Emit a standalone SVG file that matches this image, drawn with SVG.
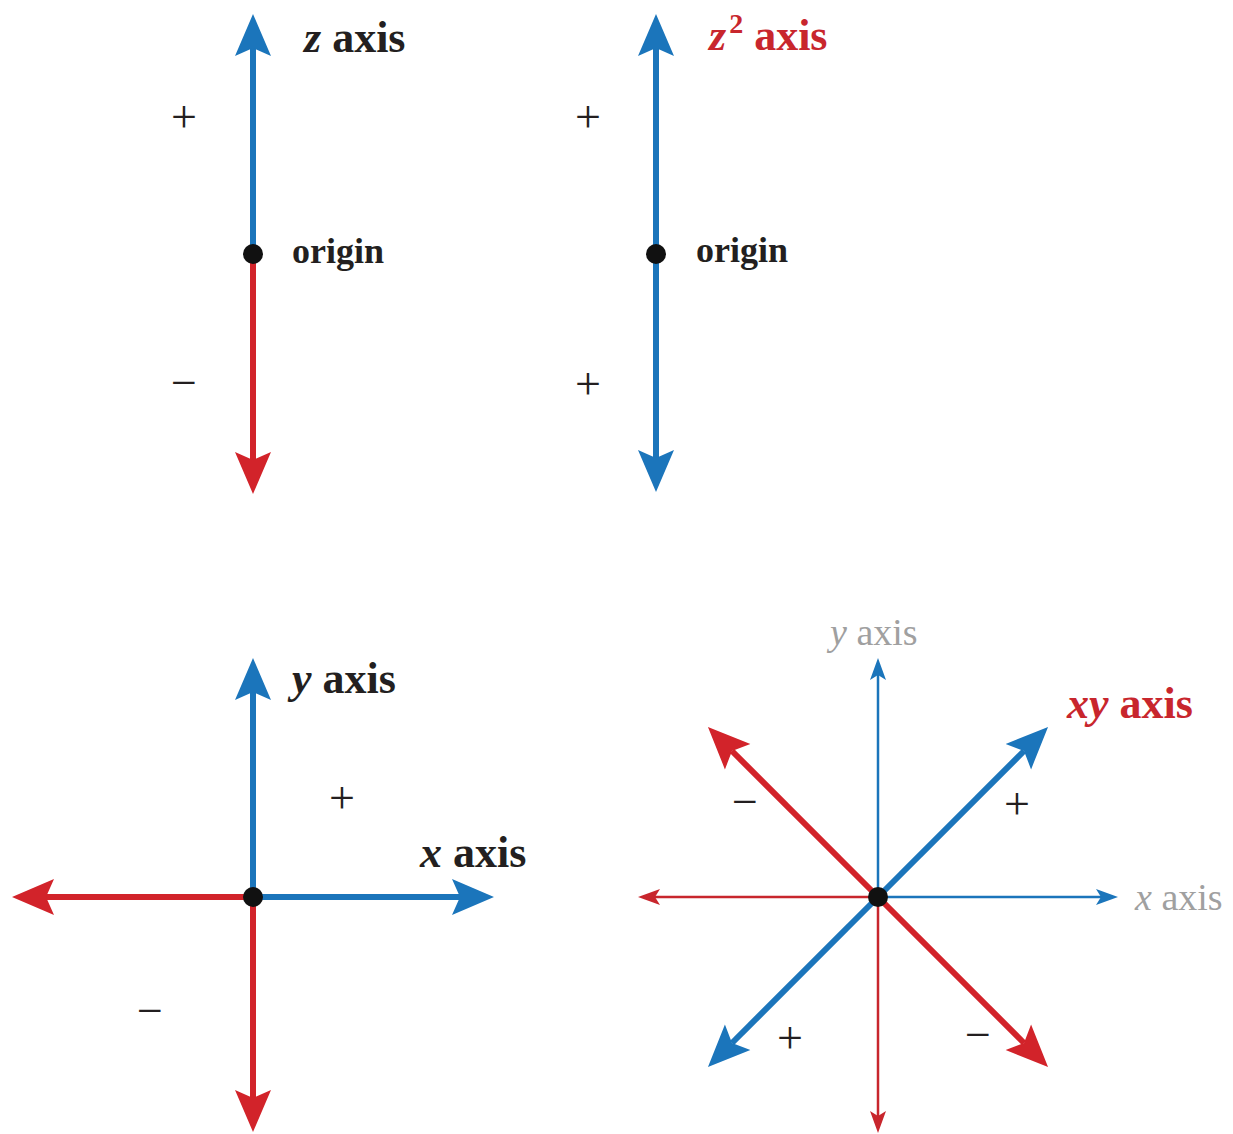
<svg xmlns="http://www.w3.org/2000/svg" width="1233" height="1134" viewBox="0 0 1233 1134">
<style>
.lbl{font-family:"Liberation Serif",serif;font-weight:bold;font-size:44px;fill:#231f20}
.red{fill:#c8262d}
.gray{font-family:"Liberation Serif",serif;font-size:38px;fill:#a0a0a0}
.org{font-family:"Liberation Serif",serif;font-weight:bold;font-size:36px;fill:#231f20}
.sg{font-family:"Liberation Serif",serif;font-size:46px;fill:#231f20;text-anchor:middle}
.b{stroke:#1b75bb;stroke-width:6;fill:none}
.r{stroke:#d2232a;stroke-width:6;fill:none}
.bt{stroke:#1b75bb;stroke-width:2.5;fill:none}
.rt{stroke:#c8262d;stroke-width:2.5;fill:none}
.bb{marker-end:url(#mb)}
.rr{marker-end:url(#mr)}
.btm{marker-end:url(#mbt)}
.rtm{marker-end:url(#mrt)}
</style>
<defs>
<marker id="mb" markerUnits="userSpaceOnUse" markerWidth="50" markerHeight="40" viewBox="0 -20 50 40" refX="8" refY="0" orient="auto"><path d="M0,-18 L42,0 L0,18 L8,0 Z" fill="#1b75bb"/></marker>
<marker id="mr" markerUnits="userSpaceOnUse" markerWidth="50" markerHeight="40" viewBox="0 -20 50 40" refX="8" refY="0" orient="auto"><path d="M0,-18 L42,0 L0,18 L8,0 Z" fill="#d2232a"/></marker>
<marker id="mbt" markerUnits="userSpaceOnUse" markerWidth="30" markerHeight="20" viewBox="0 -10 30 20" refX="5" refY="0" orient="auto"><path d="M0,-8 L22,0 L0,8 L5,0 Z" fill="#1b75bb"/></marker>
<marker id="mrt" markerUnits="userSpaceOnUse" markerWidth="30" markerHeight="20" viewBox="0 -10 30 20" refX="5" refY="0" orient="auto"><path d="M0,-8 L22,0 L0,8 L5,0 Z" fill="#c8262d"/></marker>
</defs>
<rect width="1233" height="1134" fill="#ffffff"/>
<g id="connectors">
<line class="b bb" x1="253" y1="254" x2="253" y2="48"/>
<line class="r rr" x1="253" y1="254" x2="253" y2="460"/>
<line class="b bb" x1="656" y1="254" x2="656" y2="48"/>
<line class="b bb" x1="656" y1="254" x2="656" y2="458"/>
<line class="b bb" x1="253" y1="897" x2="253" y2="692"/>
<line class="r rr" x1="253" y1="897" x2="253" y2="1098"/>
<line class="r rr" x1="253" y1="897" x2="46" y2="897"/>
<line class="b bb" x1="253" y1="897" x2="460" y2="897"/>
<line class="bt btm" x1="878" y1="897" x2="878" y2="675"/>
<line class="bt btm" x1="878" y1="897" x2="1101" y2="897"/>
<line class="rt rtm" x1="878" y1="897" x2="655" y2="897"/>
<line class="rt rtm" x1="878" y1="897" x2="878" y2="1116"/>
<line class="b bb" x1="878" y1="897" x2="1024" y2="751"/>
<line class="b bb" x1="878" y1="897" x2="732" y2="1043"/>
<line class="r rr" x1="878" y1="897" x2="732" y2="751"/>
<line class="r rr" x1="878" y1="897" x2="1024" y2="1043"/>
</g>
<g id="z-axis">
<circle cx="253" cy="254" r="10" fill="#111"/>
<text class="lbl" x="304" y="52"><tspan font-style="italic">z</tspan> axis</text>
<text class="org" x="292" y="263">origin</text>
<text class="sg" x="184" y="132">+</text>
<text class="sg" x="184" y="398">−</text>
</g>
<g id="z2-axis">
<circle cx="656" cy="254" r="10" fill="#111"/>
<text class="lbl red" x="709" y="50"><tspan font-style="italic">z</tspan><tspan font-size="28" dx="3" dy="-17">2</tspan><tspan dy="17"> axis</tspan></text>
<text class="org" x="696" y="262">origin</text>
<text class="sg" x="588" y="132">+</text>
<text class="sg" x="588" y="399">+</text>
</g>
<g id="xy-plane">
<circle cx="253" cy="897" r="10" fill="#111"/>
<text class="lbl" x="292" y="693"><tspan font-style="italic">y</tspan> axis</text>
<text class="lbl" x="420" y="867"><tspan font-style="italic">x</tspan> axis</text>
<text class="sg" x="342" y="813">+</text>
<text class="sg" x="150" y="1026">−</text>
</g>
<g id="xy-axis">
<circle cx="878" cy="897" r="10" fill="#111"/>
<text class="gray" x="830" y="645"><tspan font-style="italic">y</tspan> axis</text>
<text class="gray" x="1135" y="910"><tspan font-style="italic">x</tspan> axis</text>
<text class="lbl red" x="1067" y="718"><tspan font-style="italic">xy</tspan> axis</text>
<text class="sg" x="745" y="817">−</text>
<text class="sg" x="1017" y="819">+</text>
<text class="sg" x="790" y="1053">+</text>
<text class="sg" x="978" y="1050">−</text>
</g>
</svg>
